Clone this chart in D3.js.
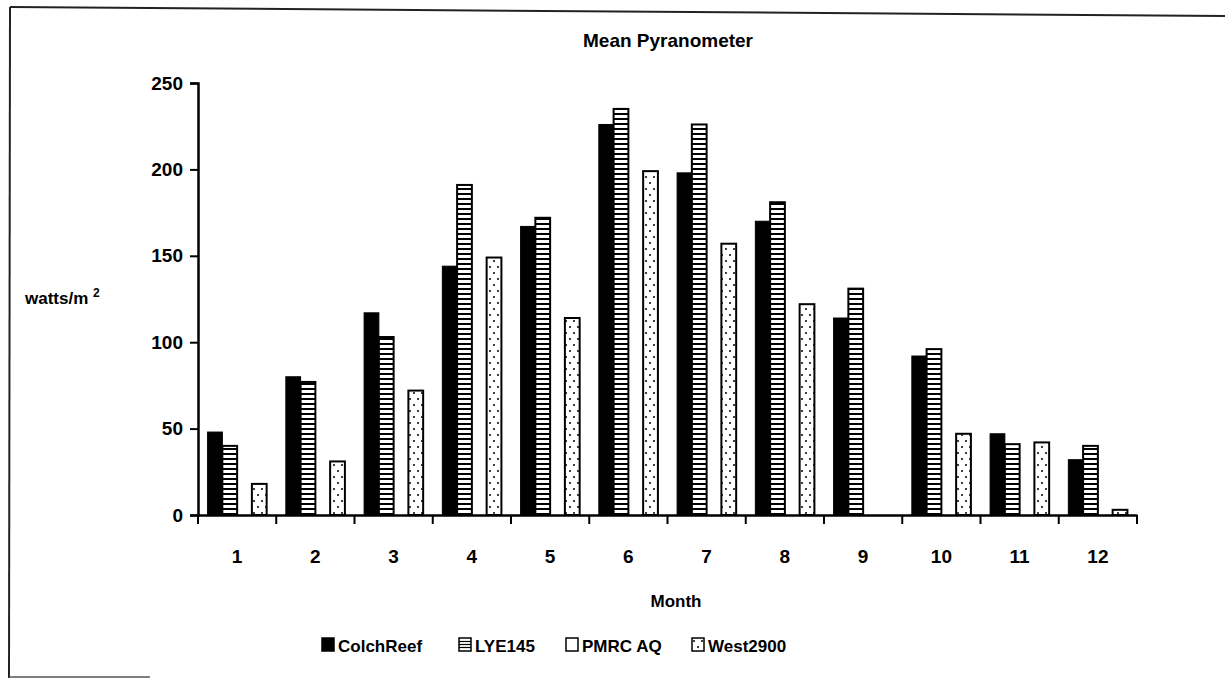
<!DOCTYPE html>
<html>
<head>
<meta charset="utf-8">
<script src="https://cdn.jsdelivr.net/npm/d3@7"></script>
<style>
  body { margin: 0; background: #fff; }
  text { font-family: "Liberation Sans", Arial, sans-serif; font-weight: bold; fill: #000; }
</style>
</head>
<body>
<div class="chart"></div>
<script>
// datos
var meses = ["1", "2", "3", "4", "5", "6", "7", "8", "9", "10", "11", "12"];
var series = ["ColchReef", "LYE145", "PMRC AQ", "West2900"];
var colchReef = [48, 80, 117, 144, 167, 226, 198, 170, 114, 92, 47, 32];
var lye145 = [40, 77, 103, 191, 172, 235, 226, 181, 131, 96, 41, 40];
var pmrcAQ = [null, null, null, null, null, null, null, null, null, null, null, null];
var west2900 = [18, 31, 72, 149, 114, 199, 157, 122, null, 47, 42, 3];
var yTicks = [0, 50, 100, 150, 200, 250];

var valores = [colchReef, lye145, pmrcAQ, west2900];

var svg = d3.select(".chart").append("svg")
    .attr("width", 1225)
    .attr("height", 679);

// patrones de relleno
var defs = svg.append("defs");

var rayas = defs.append("pattern")
    .attr("id", "rayas")
    .attr("patternUnits", "userSpaceOnUse")
    .attr("width", 10)
    .attr("height", 5);
rayas.append("rect").attr("width", 10).attr("height", 5).attr("fill", "white");
rayas.append("rect").attr("y", 3).attr("width", 10).attr("height", 2).attr("fill", "black");

var puntos = defs.append("pattern")
    .attr("id", "puntos")
    .attr("patternUnits", "userSpaceOnUse")
    .attr("width", 8)
    .attr("height", 12);
puntos.append("rect").attr("width", 8).attr("height", 12).attr("fill", "white");
puntos.append("circle").attr("cx", 2).attr("cy", 3).attr("r", 1).attr("fill", "black");
puntos.append("circle").attr("cx", 6).attr("cy", 9).attr("r", 1).attr("fill", "black");

var rellenos = ["black", "url(#rayas)", "white", "url(#puntos)"];

// marco del escaneo
svg.append("line")
    .attr("x1", 10).attr("y1", 7)
    .attr("x2", 1225).attr("y2", 16)
    .attr("stroke", "#222").attr("stroke-width", 2);
svg.append("line")
    .attr("x1", 10).attr("y1", 7)
    .attr("x2", 9).attr("y2", 678)
    .attr("stroke", "#222").attr("stroke-width", 2);
svg.append("line")
    .attr("x1", 9).attr("y1", 677)
    .attr("x2", 150).attr("y2", 677)
    .attr("stroke", "#555").attr("stroke-width", 1.5);

// escalas
var x0 = d3.scaleBand()
    .domain(meses)
    .range([198, 1137]);

var x1 = d3.scaleBand()
    .domain(series)
    .range([0, x0.bandwidth()])
    .paddingOuter(0.65);

var y = d3.scaleLinear()
    .domain([0, 250])
    .range([515, 83]);

// barras
var datos = [];
meses.forEach(function(m, i) {
    series.forEach(function(s, j) {
        if (valores[j][i] != null) {
            datos.push({ mes: m, serie: s, valor: valores[j][i], idx: j });
        }
    });
});

svg.selectAll(".barra")
    .data(datos)
    .enter().append("rect")
    .attr("class", "barra")
    .attr("x", function(d) { return x0(d.mes) + x1(d.serie); })
    .attr("y", function(d) { return y(d.valor); })
    .attr("width", x1.bandwidth())
    .attr("height", function(d) { return y(0) - y(d.valor); })
    .attr("fill", function(d) { return rellenos[d.idx]; })
    .attr("stroke", "black")
    .attr("stroke-width", function(d) { return d.idx == 0 ? 1 : 2; });

// eje y
var ejeY = svg.append("g")
    .attr("transform", "translate(198,0)")
    .call(d3.axisLeft(y).tickValues(yTicks).tickSize(8).tickPadding(7));
ejeY.select(".domain").attr("stroke-width", 2.5);
ejeY.selectAll(".tick line").attr("stroke-width", 2);
ejeY.selectAll(".tick text")
    .style("font-size", "19px")
    .style("font-family", "'Liberation Sans', Arial, sans-serif")
    .style("font-weight", "bold");

// eje x
var ejeX = svg.append("g")
    .attr("transform", "translate(0,515)")
    .call(d3.axisBottom(x0).tickSize(0).tickPadding(35));
ejeX.select(".domain").attr("stroke-width", 2.5);
ejeX.selectAll(".tick text")
    .style("font-size", "19px")
    .style("font-family", "'Liberation Sans', Arial, sans-serif")
    .style("font-weight", "bold");

// marcas entre categorias
var bordes = meses.map(function(m) { return x0(m); }).concat([x0.range()[1]]);
svg.selectAll(".marcaX")
    .data(bordes)
    .enter().append("line")
    .attr("class", "marcaX")
    .attr("x1", function(d) { return d; })
    .attr("x2", function(d) { return d; })
    .attr("y1", 515)
    .attr("y2", 524)
    .attr("stroke", "black")
    .attr("stroke-width", 2);

// titulo
svg.append("text")
    .attr("x", 668)
    .attr("y", 47)
    .attr("text-anchor", "middle")
    .style("font-size", "19px")
    .text("Mean Pyranometer");

// etiqueta eje y
var ty = svg.append("text")
    .attr("x", 25)
    .attr("y", 304)
    .style("font-size", "17px");
ty.append("tspan").text("watts/m ");
ty.append("tspan")
    .attr("dy", -7)
    .style("font-size", "12px")
    .text("2");

// etiqueta eje x
svg.append("text")
    .attr("x", 676)
    .attr("y", 607)
    .attr("text-anchor", "middle")
    .style("font-size", "17px")
    .text("Month");

// leyenda
var leyendaX = [322, 459, 566, 692];
var leyenda = svg.selectAll(".leyenda")
    .data(series)
    .enter().append("g")
    .attr("class", "leyenda")
    .attr("transform", function(d, i) { return "translate(" + leyendaX[i] + ",638)"; });

leyenda.append("rect")
    .attr("width", 12)
    .attr("height", 13)
    .attr("fill", function(d, i) { return i == 1 ? "white" : rellenos[i]; })
    .attr("stroke", "black")
    .attr("stroke-width", 1.5);

// rayas de la leyenda LYE145
leyenda.filter(function(d, i) { return i == 1; })
    .selectAll(".rl")
    .data([3.5, 6.5, 9.5])
    .enter().append("line")
    .attr("x1", 0).attr("x2", 12)
    .attr("y1", function(d) { return d; })
    .attr("y2", function(d) { return d; })
    .attr("stroke", "black")
    .attr("stroke-width", 1.2);

leyenda.append("text")
    .attr("x", 16)
    .attr("y", 14)
    .style("font-size", "17px")
    .text(function(d) { return d; });
</script>
</body>
</html>
